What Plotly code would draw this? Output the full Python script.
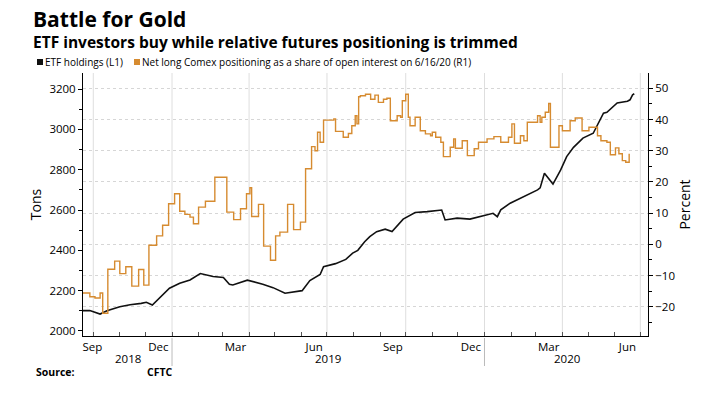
import plotly.graph_objects as go

# ETF holdings (tons, left axis)
etf_dates = ["2018-09-19", "2018-09-27", "2018-10-09", "2018-10-17", "2018-11-01", "2018-11-13",
             "2018-11-26", "2018-12-02", "2018-12-09", "2018-12-29", "2019-01-10", "2019-01-22",
             "2019-02-03", "2019-02-18", "2019-03-02", "2019-03-09", "2019-03-13", "2019-03-30",
             "2019-04-17", "2019-04-29", "2019-05-13", "2019-05-22", "2019-06-02", "2019-06-11",
             "2019-06-23", "2019-06-27", "2019-07-11", "2019-07-23", "2019-07-31", "2019-08-06",
             "2019-08-14", "2019-08-20", "2019-08-28", "2019-09-07", "2019-09-15", "2019-09-28",
             "2019-10-12", "2019-10-26", "2019-11-08", "2019-11-12", "2019-11-16", "2019-11-30",
             "2019-12-15", "2020-01-11", "2020-01-16", "2020-01-20", "2020-01-31", "2020-02-04",
             "2020-03-03", "2020-03-06", "2020-03-11", "2020-03-21", "2020-03-30", "2020-04-06",
             "2020-04-14", "2020-04-25", "2020-05-07", "2020-05-19", "2020-05-23", "2020-06-04",
             "2020-06-16", "2020-06-19", "2020-06-22", "2020-06-24"]
etf_tons = [2101, 2101, 2084, 2100, 2120, 2130,
            2137, 2142, 2129, 2212, 2237, 2253,
            2285, 2270, 2265, 2232, 2228, 2252,
            2232, 2215, 2187, 2192, 2200, 2250,
            2280, 2319, 2334, 2355, 2386, 2400,
            2443, 2468, 2493, 2505, 2493, 2555,
            2588, 2592, 2601, 2600, 2551, 2560,
            2555, 2584, 2567, 2601, 2634, 2642,
            2700, 2710, 2783, 2729, 2799, 2865,
            2911, 2957, 2981, 3081, 3085, 3131,
            3140, 3147, 3172, 3177]

# Net long Comex positioning as share of open interest (%, right axis)
cot_dates = ["2018-09-19", "2018-09-27", "2018-10-03", "2018-10-09", "2018-10-12", "2018-10-18",
             "2018-10-26", "2018-11-01", "2018-11-08", "2018-11-15", "2018-11-23", "2018-11-29",
             "2018-12-05", "2018-12-14", "2018-12-21", "2018-12-28", "2019-01-04", "2019-01-10",
             "2019-01-16", "2019-01-22", "2019-01-26", "2019-02-01", "2019-02-09", "2019-02-20",
             "2019-03-06", "2019-03-14", "2019-03-22", "2019-03-29", "2019-04-02", "2019-04-04",
             "2019-04-12", "2019-04-18", "2019-04-26", "2019-05-02", "2019-05-07", "2019-05-16",
             "2019-05-23", "2019-05-31", "2019-06-06", "2019-06-13", "2019-06-17", "2019-06-20",
             "2019-06-23", "2019-06-27", "2019-07-09", "2019-07-11", "2019-07-20", "2019-07-26",
             "2019-07-30", "2019-08-03", "2019-08-05", "2019-08-07", "2019-08-09", "2019-08-15",
             "2019-08-21", "2019-08-26", "2019-08-30", "2019-09-05", "2019-09-09", "2019-09-13",
             "2019-09-21", "2019-09-25", "2019-09-27", "2019-10-01", "2019-10-04", "2019-10-06",
             "2019-10-12", "2019-10-18", "2019-10-24", "2019-10-30", "2019-11-01", "2019-11-05",
             "2019-11-11", "2019-11-14", "2019-11-22", "2019-11-26", "2019-11-28", "2019-12-06",
             "2019-12-12", "2019-12-20", "2019-12-25", "2020-01-04", "2020-01-12", "2020-01-20",
             "2020-01-29", "2020-02-02", "2020-02-05", "2020-02-12", "2020-02-16", "2020-02-20",
             "2020-03-03", "2020-03-06", "2020-03-08", "2020-03-12", "2020-03-16", "2020-03-18",
             "2020-03-28", "2020-04-01", "2020-04-10", "2020-04-16", "2020-04-24", "2020-05-02",
             "2020-05-12", "2020-05-16", "2020-05-23", "2020-05-27", "2020-06-02", "2020-06-06",
             "2020-06-10", "2020-06-14", "2020-06-18"]
cot_pct = [-15.6, -16.8, -17.2, -15.6, -22.1, -8.0,
           -5.4, -9.4, -7.2, -13.4, -8.1, -13.1,
           -0.3, 2.7, 6.1, 13.0, 16.2, 10.6,
           9.6, 8.7, 6.6, 11.9, 13.8, 21.5,
           10.3, 7.9, 11.4, 16.2, 18.1, 8.9,
           12.8, -0.6, -5.1, 2.7, 3.9, 12.8,
           4.7, 7.1, 24.2, 31.3, 30.0, 35.9,
           32.7, 39.8, 40.2, 36.2, 34.3, 35.5,
           38.0, 41.2, 38.6, 47.3, 47.6, 48.1,
           46.5, 47.8, 45.5, 46.5, 46.8, 39.6,
           41.2, 40.7, 46.0, 48.1, 40.7, 38.0,
           40.7, 36.4, 35.4, 34.8, 35.9, 34.3,
           32.7, 28.1, 31.1, 33.8, 30.8, 33.2,
           28.4, 30.6, 32.7, 33.8, 34.5, 32.7,
           34.3, 38.6, 32.4, 34.8, 33.2, 39.1,
           41.2, 39.1, 40.7, 42.3, 45.1, 31.1,
           38.0, 36.4, 39.6, 40.5, 36.4, 37.5,
           34.8, 33.2, 32.7, 28.7, 30.9, 29.0,
           26.8, 26.3, 29.0]

month_labels = ["Sep", "Dec", "Mar", "Jun", "Sep", "Dec", "Mar", "Jun"]
month_label_dates = ["2018-09-30", "2018-12-16", "2019-03-16", "2019-06-16",
                     "2019-09-16", "2019-12-16", "2020-03-16", "2020-06-16"]
quarter_grid_dates = ["2018-10-01", "2019-01-01", "2019-04-01", "2019-07-01",
                      "2019-10-01", "2020-01-01", "2020-04-01", "2020-07-01"]
year_labels = ["2018", "2019", "2020"]
year_label_dates = ["2018-11-10", "2019-07-02", "2020-04-06"]
year_breaks = ["2019-01-01", "2020-01-01"]

BLACK = "#111111"
ORANGE = "#D68B30"
FONT = "Open Sans"

fig = go.Figure()
fig.add_trace(go.Scatter(x=etf_dates, y=etf_tons, mode="lines", yaxis="y",
                         line=dict(color=BLACK, width=1.6), name="ETF holdings (L1)"))
fig.add_trace(go.Scatter(x=cot_dates, y=cot_pct, mode="lines", yaxis="y2",
                         line=dict(color=ORANGE, width=1.4, shape="hv"),
                         name="Net long Comex positioning"))

def px2paper_x(p):
    return (p - 83) / 565.0
def px2paper_y(p):
    return (336 - p) / 263.0

shapes = []
for d in quarter_grid_dates:
    shapes.append(dict(type="line", xref="x", yref="paper", x0=d, x1=d, y0=0, y1=1,
                       line=dict(color="#dedede", width=1), layer="below"))
for d in year_breaks:
    shapes.append(dict(type="line", xref="x", yref="paper", x0=d, x1=d,
                       y0=px2paper_y(338), y1=px2paper_y(366),
                       line=dict(color="#bbbbbb", width=1)))
# legend squares
shapes.append(dict(type="rect", xref="paper", yref="paper",
                   x0=px2paper_x(37), x1=px2paper_x(43), y0=px2paper_y(65), y1=px2paper_y(59),
                   fillcolor=BLACK, line=dict(width=0)))
shapes.append(dict(type="rect", xref="paper", yref="paper",
                   x0=px2paper_x(134), x1=px2paper_x(140), y0=px2paper_y(65), y1=px2paper_y(59),
                   fillcolor=ORANGE, line=dict(width=0)))

annotations = []
annotations.append(dict(text="<b>Battle for Gold</b>", xref="paper", yref="paper",
                        x=px2paper_x(31), y=px2paper_y(19), xanchor="left", yanchor="middle",
                        showarrow=False, font=dict(family=FONT, size=21, color="#000")))
annotations.append(dict(text="<b>ETF investors buy while relative futures positioning is trimmed</b>",
                        xref="paper", yref="paper", x=px2paper_x(31), y=px2paper_y(42),
                        xanchor="left", yanchor="middle", showarrow=False,
                        font=dict(family=FONT, size=15.5, color="#000")))
annotations.append(dict(text="ETF holdings (L1)", xref="paper", yref="paper",
                        x=px2paper_x(43), y=px2paper_y(62), xanchor="left", yanchor="middle",
                        showarrow=False, font=dict(family=FONT, size=10, color="#000")))
annotations.append(dict(text="Net long Comex positioning as a share of open interest on 6/16/20 (R1)",
                        xref="paper", yref="paper", x=px2paper_x(140), y=px2paper_y(62),
                        xanchor="left", yanchor="middle", showarrow=False,
                        font=dict(family=FONT, size=10, color="#000")))
for lab, d in zip(year_labels, year_label_dates):
    annotations.append(dict(text=lab, xref="x", yref="paper", x=d, y=px2paper_y(358),
                            xanchor="center", yanchor="middle", showarrow=False,
                            font=dict(family=FONT, size=11.5, color="#000")))
annotations.append(dict(text="<b>Source:</b>", xref="paper", yref="paper",
                        x=px2paper_x(34), y=px2paper_y(372), xanchor="left", yanchor="middle",
                        showarrow=False, font=dict(family=FONT, size=10.5, color="#000")))
annotations.append(dict(text="<b>CFTC</b>", xref="paper", yref="paper",
                        x=px2paper_x(145), y=px2paper_y(372), xanchor="left", yanchor="middle",
                        showarrow=False, font=dict(family=FONT, size=10.5, color="#000")))

fig.update_layout(
    width=719, height=393,
    margin=dict(l=83, r=71, t=73, b=57, autoexpand=False),
    paper_bgcolor="white", plot_bgcolor="white",
    showlegend=False,
    font=dict(family=FONT, color="#000"),
    shapes=shapes, annotations=annotations,
    xaxis=dict(type="date", range=["2018-09-19", "2020-07-10"], automargin=False,
               tickvals=month_label_dates, ticktext=month_labels, ticks="",
               tickfont=dict(size=11.5), showgrid=False, showline=True,
               linecolor="#000", linewidth=1, zeroline=False,
               minor=dict(tick0="2018-09-01", dtick="M1", ticks="inside", ticklen=4,
                          tickcolor="#555", showgrid=False)),
    yaxis=dict(range=[1975, 3280], tickvals=[2000, 2200, 2400, 2600, 2800, 3000, 3200],
               automargin=False,
               ticks="outside", ticklen=4, tickcolor="#000", showgrid=False,
               showline=True, linecolor="#000", linewidth=1, zeroline=False,
               tickfont=dict(size=11.5),
               minor=dict(dtick=100, tick0=2000, ticks="outside", ticklen=3, tickcolor="#000",
                          showgrid=False),
               title=dict(text="Tons", font=dict(size=14), standoff=4)),
    yaxis2=dict(range=[-29.4, 54.9], overlaying="y", side="right", automargin=False,
                tickvals=[-20, -10, 0, 10, 20, 30, 40, 50],
                ticks="outside", ticklen=4, tickcolor="#000",
                showgrid=True, gridcolor="#d6d6d6", griddash="dot", gridwidth=1,
                showline=True, linecolor="#000", linewidth=1, zeroline=False,
                tickfont=dict(size=11.5),
                minor=dict(dtick=5, tick0=0, ticks="outside", ticklen=3, tickcolor="#000",
                           showgrid=False),
                title=dict(text="Percent", font=dict(size=14), standoff=6)),
)

fig.write_html("out.html", config={"displayModeBar": False},
               post_script="document.body.style.margin='0px';")
